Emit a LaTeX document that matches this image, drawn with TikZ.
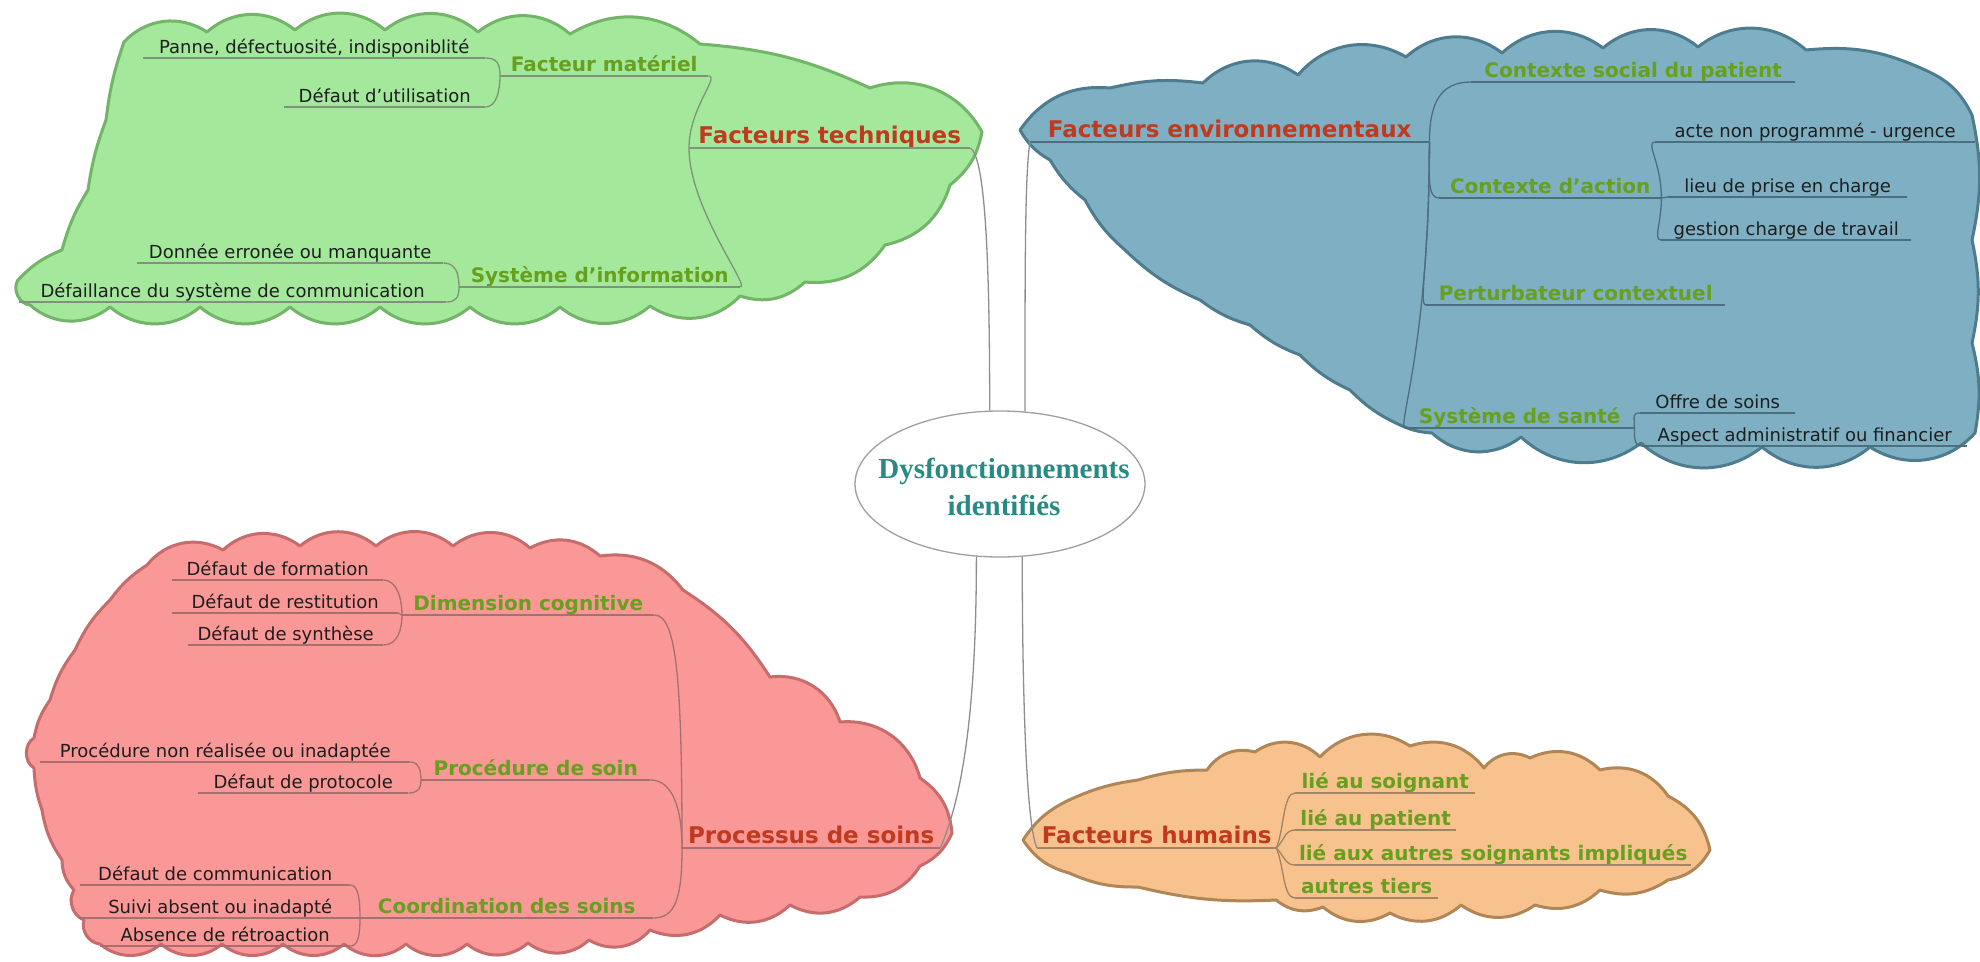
\documentclass[tikz,border=0pt]{standalone}
\usepackage{fontspec}
\setmainfont{DejaVu Sans}
\newfontfamily\centrefont{Liberation Serif}
\usetikzlibrary{shapes.geometric}

% fills and outlines of the four clouds
\definecolor{gfill}{HTML}{A4E89C}
\definecolor{gedge}{HTML}{72B468}
\definecolor{gline}{HTML}{7E9478}
\definecolor{bfill}{HTML}{7FAFC2}
\definecolor{bedge}{HTML}{4E7C8F}
\definecolor{bline}{HTML}{4C6F80}
\definecolor{rfill}{HTML}{FA9797}
\definecolor{redge}{HTML}{C66C6D}
\definecolor{rline}{HTML}{A47070}
\definecolor{ofill}{HTML}{F8C28E}
\definecolor{oedge}{HTML}{B08657}
\definecolor{oline}{HTML}{A08464}
% text colours
\definecolor{ctitle}{HTML}{BF3A1E}
\definecolor{csub}{HTML}{67A01E}
\definecolor{cteal}{HTML}{2A8A82}
\definecolor{ctext}{HTML}{1E1E1E}
\definecolor{clink}{HTML}{8E8E8E}

\tikzset{
  bo/.style={bend left=#1},
  cloud/.style={line width=3pt, line join=round},
  lbl/.style={anchor=south west, inner xsep=0pt, inner ysep=2pt,
              text depth=0.22em, text height=0.76em},
  small/.style={lbl, font=\fontsize{18}{22}\selectfont, text=ctext},
  mid/.style={lbl, font=\fontsize{20}{24}\selectfont\bfseries, text=csub},
  big/.style={lbl, font=\fontsize{23}{28}\selectfont\bfseries, text=ctitle},
  uline/.style={append after command={\pgfextra{\let\ulnode\tikzlastnode}
      (\ulnode.south west) edge[draw=#1, line width=1.3pt] (\ulnode.south east)}},
  lk/.style={draw=#1, line width=1.3pt},
  outlink/.style={draw=clink, line width=1.3pt},
}

\begin{document}
\begin{tikzpicture}[x=1pt,y=-1pt]
\useasboundingbox (0,0) rectangle (1980,961);
\fill[white] (0,0) rectangle (1980,961);

% ---------- cloud outlines ----------
\draw[cloud, fill=gfill, draw=gedge]
  (124,42) to[bo=40] (207,32) to[bo=40] (295,30) to[bo=40] (385,30)
  to[bo=40] (478,32) to[bo=40] (570,34) to[bo=35] (700,44)
  to[bo=10] (870,88) to[bo=40] (982,132) to[bo=20] (950,185)
  to[bo=30] (885,245) to[bo=30] (805,282) to[bo=30] (740,296)
  to[bo=40] (650,306) to[bo=40] (560,307) to[bo=40] (470,307)
  to[bo=40] (380,307) to[bo=40] (290,307) to[bo=40] (200,307)
  to[bo=40] (110,307) to[bo=40] (30,305) to[bo=60] (18,280)
  to[bo=12] (62,250) to[bo=8] (88,190) to[bo=6] (106,120)
  to[bo=6] (124,42) -- cycle;

\draw[cloud, fill=bfill, draw=bedge]
  (1020,130) to[bo=30] (1110,88) to[bo=10] (1203,83) to[bo=40] (1298,75)
  to[bo=40] (1406,57) to[bo=40] (1502,53) to[bo=40] (1603,48)
  to[bo=40] (1698,47) to[bo=40] (1806,50) to[bo=15] (1925,70)
  to[bo=20] (1972,115) to[bo=12] (1972,240) to[bo=12] (1972,343)
  to[bo=12] (1975,433) to[bo=40] (1870,447) to[bo=40] (1762,447)
  to[bo=40] (1641,443) to[bo=40] (1521,437) to[bo=40] (1432,433)
  to[bo=10] (1400,425) to[bo=10] (1350,390) to[bo=10] (1300,355)
  to[bo=10] (1250,325) to[bo=10] (1200,300) to[bo=10] (1125,250)
  to[bo=10] (1085,200) to[bo=10] (1050,160) to[bo=15] (1020,130) -- cycle;

\draw[cloud, fill=rfill, draw=redge]
  (147,565) to[bo=40] (223,550) to[bo=40] (300,546) to[bo=40] (376,546)
  to[bo=40] (453,546) to[bo=40] (530,548) to[bo=35] (600,556)
  to[bo=30] (683,590) to[bo=12] (770,677) to[bo=40] (840,722)
  to[bo=40] (920,778) to[bo=25] (952,833) to[bo=20] (920,866)
  to[bo=30] (860,897) to[bo=35] (790,905) to[bo=35] (720,915)
  to[bo=35] (650,930) to[bo=40] (589,940) to[bo=40] (528,943)
  to[bo=40] (467,944) to[bo=40] (406,944) to[bo=40] (344,944)
  to[bo=40] (283,944) to[bo=40] (222,944) to[bo=40] (161,944)
  to[bo=40] (100,944) to[bo=50] (84,920) to[bo=50] (74,890)
  to[bo=20] (62,860) to[bo=12] (42,810) to[bo=8] (34,768)
  to[bo=60] (34,738) to[bo=12] (50,700) to[bo=10] (75,650)
  to[bo=10] (110,600) to[bo=10] (147,565) -- cycle;

\draw[cloud, fill=ofill, draw=oedge]
  (1023,840) to[bo=15] (1069,800) to[bo=8] (1138,780) to[bo=8] (1207,770)
  to[bo=35] (1255,752) to[bo=40] (1320,757) to[bo=40] (1410,746)
  to[bo=35] (1484,768) to[bo=40] (1530,758) to[bo=35] (1600,770)
  to[bo=35] (1668,796) to[bo=25] (1710,850) to[bo=25] (1668,880)
  to[bo=25] (1600,890) to[bo=30] (1535,905) to[bo=35] (1461,905)
  to[bo=35] (1390,913) to[bo=35] (1323,907) to[bo=30] (1276,900)
  to[bo=8] (1138,887) to[bo=12] (1069,873) to[bo=20] (1023,840) -- cycle;

% ---------- centre ----------
\node[ellipse, draw=clink!85, line width=1.3pt, fill=white,
      minimum width=290, minimum height=146, inner sep=0pt] (ell) at (1000,484) {};
\node[font=\centrefont\bfseries\fontsize{29}{37}\selectfont, text=cteal, align=center]
  (ellt) at (1004,487) {Dysfonctionnements\\identifiés};

% ---------- Facteurs techniques ----------
\node[big, uline=gline, minimum width=281] (ft) at (689,148) {Facteurs techniques};
\node[mid, uline=gline, minimum width=208] (fm) at (500,76) {Facteur matériel};
\node[mid, uline=gline, minimum width=281] (si) at (459,287) {Système d'information};
\node[small, uline=gline, minimum width=342] (panne) at (143,58) {Panne, défectuosité, indisponiblité};
\node[small, uline=gline, minimum width=201] (defut) at (284,107) {Défaut d'utilisation};
\node[small, uline=gline, minimum width=306] (donnee) at (137,263) {Donnée erronée ou manquante};
\node[small, uline=gline, minimum width=427] (defaill) at (19,302) {Défaillance du système de communication};

\draw[lk=gline] (panne.south east) .. controls +(12,0) and +(0,-12) .. (fm.south west);
\draw[lk=gline] (defut.south east) .. controls +(12,0) and +(0,12) .. (fm.south west);
\draw[lk=gline] (donnee.south east) .. controls +(12,0) and +(0,-14) .. (si.south west);
\draw[lk=gline] (defaill.south east) .. controls +(10,0) and +(0,10) .. (si.south west);
\draw[lk=gline] (fm.south east) .. controls +(12,0) and +(0,-40) .. (ft.south west);
\draw[lk=gline] (si.south east) .. controls +(10,0) and +(0,60) .. (ft.south west);

% ---------- Facteurs environnementaux ----------
\node[big, uline=bline, minimum width=399] (fe) at (1030,142) {Facteurs environnementaux};
\node[mid, uline=bline, minimum width=324] (cs) at (1471,82) {Contexte social du patient};
\node[mid, uline=bline, minimum width=222] (ca) at (1439,198) {Contexte d'action};
\node[small, uline=bline, minimum width=320] (acte) at (1655,142) {acte non programmé - urgence};
\node[small, uline=bline, minimum width=239] (lieu) at (1668,197) {lieu de prise en charge};
\node[small, uline=bline, minimum width=250] (gestion) at (1661,240) {gestion charge de travail};
\node[mid, uline=bline, minimum width=299] (pc) at (1426,305) {Perturbateur contextuel};
\node[mid, uline=bline, minimum width=229] (ss) at (1405,428) {Système de santé};
\node[small, uline=bline, minimum width=155] (offre) at (1640,413) {Offre de soins};
\node[small, uline=bline, minimum width=325] (aspect) at (1642,446) {Aspect administratif ou financier};

\draw[lk=bline] (fe.south east) .. controls +(0,-40) and +(-30,0) .. (cs.south west);
\draw[lk=bline] (fe.south east) .. controls +(0,35) and +(-12,0) .. (ca.south west);
\draw[lk=bline] (fe.south east) .. controls +(0,120) and +(-8,0) .. (pc.south west);
\draw[lk=bline] (fe.south east) .. controls +(0,200) and +(-8,0) .. (ss.south west);
\draw[lk=bline] (ca.south east) .. controls +(0,-35) and +(-10,0) .. (acte.south west);
\draw[lk=bline] (ca.south east) .. controls +(3,0) and +(-3,0) .. (lieu.south west);
\draw[lk=bline] (ca.south east) .. controls +(0,25) and +(-8,0) .. (gestion.south west);
\draw[lk=bline] (ss.south east) .. controls +(0,-12) and +(-8,0) .. (offre.south west);
\draw[lk=bline] (ss.south east) .. controls +(0,10) and +(-8,0) .. (aspect.south west);

% ---------- Processus de soins ----------
\node[big, uline=rline, minimum width=258] (ps) at (682,848) {Processus de soins};
\node[mid, uline=rline, minimum width=252] (dc) at (402,615) {Dimension cognitive};
\node[mid, uline=rline, minimum width=229] (pds) at (421,780) {Procédure de soin};
\node[mid, uline=rline, minimum width=293] (cds) at (360,918) {Coordination des soins};
\node[small, uline=rline, minimum width=211] (form) at (172,580) {Défaut de formation};
\node[small, uline=rline, minimum width=226] (rest) at (172,613) {Défaut de restitution};
\node[small, uline=rline, minimum width=195] (synth) at (188,645) {Défaut de synthèse};
\node[small, uline=rline, minimum width=370] (pnr) at (40,762) {Procédure non réalisée ou inadaptée};
\node[small, uline=rline, minimum width=210] (proto) at (198,793) {Défaut de protocole};
\node[small, uline=rline, minimum width=270] (comm) at (80,885) {Défaut de communication};
\node[small, uline=rline, minimum width=280] (suivi) at (80,918) {Suivi absent ou inadapté};
\node[small, uline=rline, minimum width=250] (absence) at (100,946) {Absence de rétroaction};

\draw[lk=rline] (form.south east) .. controls +(14,0) and +(0,-15) .. (dc.south west);
\draw[lk=rline] (rest.south east) -- (dc.south west);
\draw[lk=rline] (synth.south east) .. controls +(14,0) and +(0,15) .. (dc.south west);
\draw[lk=rline] (pnr.south east) .. controls +(8,0) and +(0,-10) .. (pds.south west);
\draw[lk=rline] (proto.south east) .. controls +(8,0) and +(0,10) .. (pds.south west);
\draw[lk=rline] (comm.south east) .. controls +(8,0) and +(0,-18) .. (cds.south west);
\draw[lk=rline] (absence.south east) .. controls +(8,0) and +(0,16) .. (cds.south west);
\draw[lk=rline] (dc.south east) .. controls +(22,0) and +(0,-170) .. (ps.south west);
\draw[lk=rline] (pds.south east) .. controls +(22,0) and +(0,-40) .. (ps.south west);
\draw[lk=rline] (cds.south east) .. controls +(22,0) and +(0,50) .. (ps.south west);

% ---------- Facteurs humains ----------
\node[big, uline=oline, minimum width=239] (fh) at (1037,848) {Facteurs humains};
\node[mid, uline=oline, minimum width=180] (s1) at (1295,793) {lié au soignant};
\node[mid, uline=oline, minimum width=161] (s2) at (1295,830) {lié au patient};
\node[mid, uline=oline, minimum width=396] (s3) at (1295,865) {lié aux autres soignants impliqués};
\node[mid, uline=oline, minimum width=143] (s4) at (1295,898) {autres tiers};

\draw[lk=oline] (fh.south east) .. controls +(8,-20) and +(-12,0) .. (s1.south west);
\draw[lk=oline] (fh.south east) .. controls +(8,-8) and +(-10,0) .. (s2.south west);
\draw[lk=oline] (fh.south east) .. controls +(8,8) and +(-10,0) .. (s3.south west);
\draw[lk=oline] (fh.south east) .. controls +(8,20) and +(-12,0) .. (s4.south west);

% ---------- links to the centre ----------
\draw[outlink] (ft.south east) .. controls +(15,10) and +(0,-150) .. (ell.98);
\draw[outlink] (fe.south west) .. controls +(-5,30) and +(0,-150) .. (ell.71);
\draw[outlink] (ps.south east) .. controls +(12,-30) and +(0,200) .. (ell.252);
\draw[outlink] (fh.south west) .. controls +(-10,-20) and +(0,150) .. (ell.287);
\end{tikzpicture}
\end{document}
